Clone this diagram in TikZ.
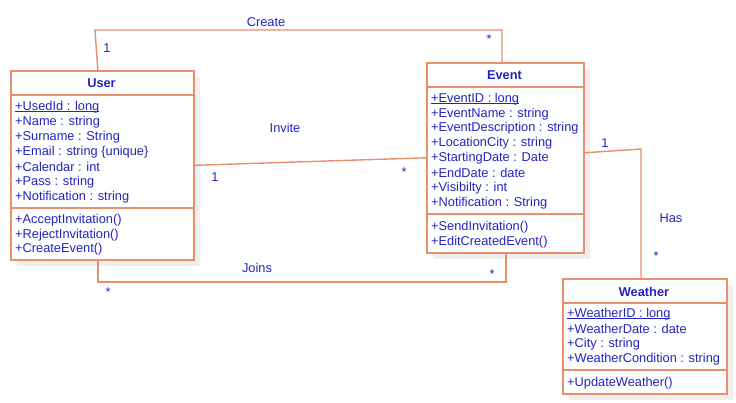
\documentclass[tikz,border=0pt]{standalone}
\usepackage{fontspec}
\setmainfont{Liberation Sans}
\definecolor{bord}{HTML}{EA8F6E}
\definecolor{txt}{HTML}{2424C0}
\definecolor{shad}{HTML}{EFEFEF}
\newcommand\myul[1]{\setbox0\hbox{#1}\rlap{\rule[-1.6pt]{\wd0}{0.7pt}}\box0}
\begin{document}
\begin{tikzpicture}[x=1pt,y=-1pt,
  cls/.style={draw=bord,line width=1.6pt,fill=white,anchor=north west,inner sep=0pt},
  shadowbox/.style={fill=shad,draw=none,anchor=north west,inner sep=0pt},
  attr/.style={anchor=west,inner sep=0pt,text=txt,font=\fontsize{12.8}{14}\selectfont},
  ttl/.style={anchor=center,inner sep=0pt,text=txt,font=\fontsize{12.8}{14}\selectfont\bfseries},
  sep/.style={draw=bord,line width=1.6pt},
  conn/.style={draw=bord,line width=1.4pt},
  lbl/.style={inner sep=0pt,text=txt,font=\fontsize{12.8}{14}\selectfont}]
\useasboundingbox (0,0) rectangle (736,403);
% shadows
\node[shadowbox,minimum width=183pt,minimum height=189pt] (ushad) at (17,77) {};
\node[shadowbox,minimum width=157pt,minimum height=190pt] (eshad) at (433,69) {};
\node[shadowbox,minimum width=164pt,minimum height=115pt] (wshad) at (569,285) {};
% User
\node[cls,minimum width=183pt,minimum height=189pt] (user) at (10,70) {};
\draw[sep] (10,95) -- (193,95);
\draw[sep] (10,208) -- (193,208);
\node[ttl] (utitle) at (101.5,83) {User};
\node[attr] (u1) at (15,107) {\myul{+UsedId : long}};
\node[attr] (u2) at (15,122) {+Name : string};
\node[attr] (u3) at (15,137) {+Surname : String};
\node[attr] (u4) at (15,152) {+Email : string \{unique\}};
\node[attr] (u5) at (15,167) {+Calendar : int};
\node[attr] (u6) at (15,182) {+Pass : string};
\node[attr] (u7) at (15,197) {+Notification : string};
\node[attr] (u8) at (15,220) {+AcceptInvitation()};
\node[attr] (u9) at (15,235) {+RejectInvitation()};
\node[attr] (u10) at (15,249) {+CreateEvent()};
% Event
\node[cls,minimum width=157pt,minimum height=190pt] (event) at (426,62) {};
\draw[sep] (426,87) -- (583,87);
\draw[sep] (426,214) -- (583,214);
\node[ttl] (etitle) at (504.5,75) {Event};
\node[attr] (e1) at (431,99) {\myul{+EventID : long}};
\node[attr] (e2) at (431,114) {+EventName : string};
\node[attr] (e3) at (431,128.5) {+EventDescription : string};
\node[attr] (e4) at (431,143.5) {+LocationCity : string};
\node[attr] (e5) at (431,158.5) {+StartingDate : Date};
\node[attr] (e6) at (431,173) {+EndDate : date};
\node[attr] (e7) at (431,188) {+Visibilty : int};
\node[attr] (e8) at (431,203) {+Notification : String};
\node[attr] (e9) at (431,227) {+SendInvitation()};
\node[attr] (e10) at (431,242) {+EditCreatedEvent()};
% Weather
\node[cls,minimum width=164pt,minimum height=115pt] (weather) at (562,278) {};
\draw[sep] (562,303) -- (726,303);
\draw[sep] (562,370) -- (726,370);
\node[ttl] (wtitle) at (644,292) {Weather};
\node[attr] (w1) at (567,314) {\myul{+WeatherID : long}};
\node[attr] (w2) at (567,329) {+WeatherDate : date};
\node[attr] (w3) at (567,344) {+City : string};
\node[attr] (w4) at (567,359) {+WeatherCondition : string};
\node[attr] (w5) at (567,383) {+UpdateWeather()};
% connectors
\coordinate (c1) at (95,30);
\coordinate (c2) at (502,30);
\draw[conn] ([xshift=-4.5pt]user.north) -- (c1) -- (c2) -- (c2 |- event.north);
\node[lbl] (lcreate) at (266,22) {Create};
\node[lbl] (lc1) at (107,48) {1};
\node[lbl] (lc2) at (489,39) {*};
\draw[conn] (user.east) -- (event.west);
\node[lbl] (linvite) at (285,128) {Invite};
\node[lbl] (li1) at (215,177) {1};
\node[lbl] (li2) at (404,172) {*};
\coordinate (j1) at (98,282);
\coordinate (j2) at (506,282);
\draw[conn] (j1 |- user.south) -- (j1) -- (j2) -- (j2 |- event.south);
\node[lbl] (ljoins) at (257,268) {Joins};
\node[lbl] (lj1) at (108,292) {*};
\node[lbl] (lj2) at (492,274) {*};
\coordinate (h1) at (641,149);
\draw[conn] ([yshift=5pt]event.east) -- (h1) -- (h1 |- weather.north);
\node[lbl] (lhas) at (671,218) {Has};
\node[lbl] (lh1) at (605,143) {1};
\node[lbl] (lh2) at (656,256) {*};
\end{tikzpicture}
\end{document}
